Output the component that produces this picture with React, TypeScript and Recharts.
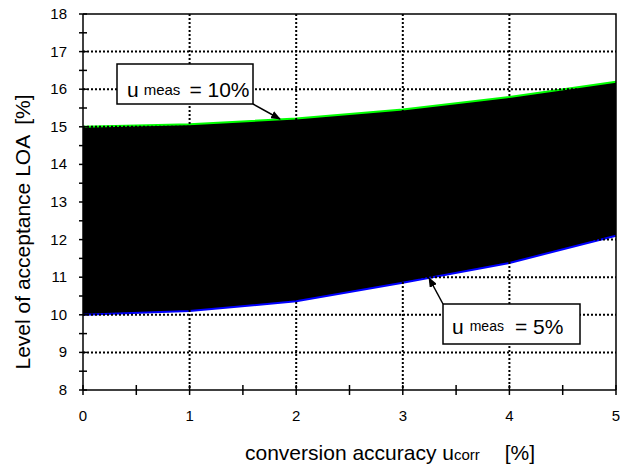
import React from 'react';
import { ComposedChart, Area, Line, XAxis, YAxis } from 'recharts';

// conversion accuracy u_corr [%]
const uCorr = [0, 1, 2, 3, 4, 5];
// LOA for u_meas = 10% (upper, green) and u_meas = 5% (lower, blue)
const loaMeas10 = [15.0, 15.07, 15.22, 15.46, 15.79, 16.2];
const loaMeas5 = [10.0, 10.1, 10.36, 10.85, 11.38, 12.1];

const xTicks = [0, 0.5, 1, 1.5, 2, 2.5, 3, 3.5, 4, 4.5, 5];
const yTicks = [8, 8.5, 9, 9.5, 10, 10.5, 11, 11.5, 12, 12.5, 13, 13.5, 14, 14.5, 15, 15.5, 16, 16.5, 17, 17.5, 18];
const xGrid = [1, 2, 3, 4];
const yGrid = [9, 10, 11, 12, 13, 14, 15, 16, 17];

const FONT = '"Liberation Sans", Arial, sans-serif';

const data = uCorr.map((u, i) => ({
  u,
  hi: loaMeas10[i],
  lo: loaMeas5[i],
  band: [loaMeas5[i], loaMeas10[i]]
}));

// plot frame in pixels (chart margins + axis sizes)
const PLOT = { left: 83, top: 14, right: 616, bottom: 390 };

const YTick = (props: any) => {
  const { x, y, payload } = props;
  const v = payload.value;
  return (
    <g>
      {yGrid.includes(v) && (
        <line x1={PLOT.left} x2={PLOT.right} y1={y} y2={y} stroke="#000" strokeWidth={2} strokeDasharray="2 2" />
      )}
      <line x1={x - 4} x2={x + 4} y1={y} y2={y} stroke="#000" strokeWidth={1.5} />
      {v % 1 === 0 && (
        <text x={x - 16} y={y + 5} textAnchor="end" fontSize={15} fontFamily={FONT} fill="#000">
          {v}
        </text>
      )}
    </g>
  );
};

const XTick = (props: any) => {
  const { x, y, payload } = props;
  const v = payload.value;
  return (
    <g>
      {xGrid.includes(v) && (
        <line x1={x} x2={x} y1={PLOT.top} y2={PLOT.bottom} stroke="#000" strokeWidth={2} strokeDasharray="2 2" />
      )}
      <line x1={x} x2={x} y1={y - 5} y2={y + 5} stroke="#000" strokeWidth={1.5} />
      {v % 1 === 0 && (
        <text x={x} y={y + 31} textAnchor="middle" fontSize={15} fontFamily={FONT} fill="#000">
          {v}
        </text>
      )}
    </g>
  );
};

export default function App() {
  return (
    <div style={{ position: 'absolute', left: 0, top: 0, width: 620, height: 464, background: '#fff' }}>
      <ComposedChart width={620} height={464} data={data} margin={{ top: 14, right: 4, left: 0, bottom: 0 }}>
        <XAxis
          dataKey="u"
          type="number"
          domain={[0, 5]}
          ticks={xTicks}
          height={74}
          tickSize={0}
          tickMargin={0}
          tick={<XTick />}
          axisLine={{ stroke: '#000', strokeWidth: 1.5 }}
          interval={0}
        />
        <YAxis
          type="number"
          domain={[8, 18]}
          ticks={yTicks}
          width={83}
          tickSize={0}
          tickMargin={0}
          tick={<YTick />}
          axisLine={{ stroke: '#000', strokeWidth: 1.5 }}
          interval={0}
        />
        <Area dataKey="band" type="linear" fill="#000" fillOpacity={1} stroke="none" isAnimationActive={false} />
        <Line dataKey="hi" type="linear" stroke="#00ff00" strokeWidth={2} dot={false} isAnimationActive={false} />
        <Line dataKey="lo" type="linear" stroke="#0000ff" strokeWidth={2} dot={false} isAnimationActive={false} />
      </ComposedChart>
      <svg
        width={620}
        height={464}
        style={{ position: 'absolute', left: 0, top: 0, pointerEvents: 'none' }}
        fontFamily={FONT}
      >
        <defs>
          <marker id="arr" markerWidth="10" markerHeight="8" refX="9" refY="4" orient="auto" markerUnits="userSpaceOnUse">
            <path d="M0,0 L10,4 L0,8 z" fill="#000" />
          </marker>
        </defs>
        {/* frame top and right */}
        <polyline
          points={`${PLOT.left},${PLOT.top} ${PLOT.right},${PLOT.top} ${PLOT.right},${PLOT.bottom}`}
          fill="none"
          stroke="#000"
          strokeWidth={1.5}
        />
        {/* u_meas = 10% */}
        <line x1={253} y1={104} x2={280} y2={119} stroke="#000" strokeWidth={1.5} markerEnd="url(#arr)" />
        <rect x={117} y={64} width={136} height={40} fill="#fff" stroke="#000" strokeWidth={1.5} />
        <text x={127} y={97} fill="#000">
          <tspan fontSize={21}>u</tspan>
          <tspan fontSize={15} dx={5} dy={-2}>meas</tspan>
          <tspan fontSize={21} dx={9} dy={2}>= 10%</tspan>
        </text>
        {/* u_meas = 5% */}
        <line x1={443} y1={304} x2={429} y2={278} stroke="#000" strokeWidth={1.5} markerEnd="url(#arr)" />
        <rect x={443} y={304} width={137} height={40} fill="#fff" stroke="#000" strokeWidth={1.5} />
        <text x={452} y={334} fill="#000">
          <tspan fontSize={21}>u</tspan>
          <tspan fontSize={14} dx={6} dy={-3}>meas</tspan>
          <tspan fontSize={21} dx={11} dy={3}>= 5%</tspan>
        </text>
        {/* axis titles */}
        <text x={30} y={232} transform="rotate(-90 30 232)" textAnchor="middle" fontSize={21} fill="#000">
          Level of acceptance LOA<tspan dx={10}>[%]</tspan>
        </text>
        <text x={245} y={460} fontSize={21} fill="#000">
          conversion accuracy u<tspan fontSize={15}>corr</tspan>
          <tspan dx={25}>[%]</tspan>
        </text>
      </svg>
    </div>
  );
}
